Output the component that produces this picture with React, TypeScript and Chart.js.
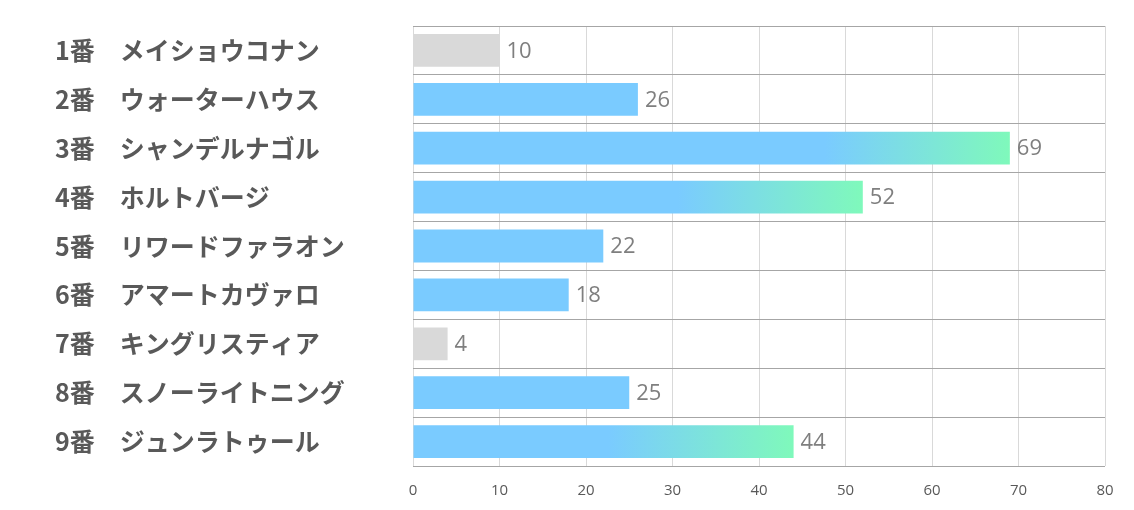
import React, { useEffect, useRef } from "react";
import { Chart, registerables } from "chart.js";

Chart.register(...registerables);

const categories: string[] = [
  "1番　メイショウコナン",
  "2番　ウォーターハウス",
  "3番　シャンデルナゴル",
  "4番　ホルトバージ",
  "5番　リワードファラオン",
  "6番　アマートカヴァロ",
  "7番　キングリスティア",
  "8番　スノーライトニング",
  "9番　ジュンラトゥール",
];
const values: number[] = [10, 26, 69, 52, 22, 18, 4, 25, 44];
// 0 = gray, 1 = blue, 2 = blue→green gradient
const barKinds: number[] = [0, 1, 2, 2, 1, 1, 0, 1, 2];
const xTicks: number[] = [0, 10, 20, 30, 40, 50, 60, 70, 80];

const GRAY = "#D9D9D9";
const BLUE = "#7ACBFF";
const GREEN = "#7FF9BB";

const valueLabels = {
  id: "valueLabels",
  afterDatasetsDraw(chart: any) {
    const ctx = chart.ctx;
    const meta = chart.getDatasetMeta(0);
    ctx.save();
    ctx.font = '22px "Open Sans", "Noto Sans", sans-serif';
    ctx.fillStyle = "#7F7F7F";
    ctx.textAlign = "left";
    ctx.textBaseline = "middle";
    meta.data.forEach((el: any, i: number) => {
      ctx.fillText(String(values[i]), el.x + 7, el.y + 1);
    });
    ctx.restore();
  },
};

export default function App() {
  const ref = useRef<HTMLCanvasElement | null>(null);
  useEffect(() => {
    if (!ref.current) return;
    const chart = new Chart(ref.current, {
      type: "bar",
      data: {
        labels: categories,
        datasets: [
          {
            data: values,
            backgroundColor: (c: any) => {
              const i = c.dataIndex;
              const kind = barKinds[i];
              if (kind === 0) return GRAY;
              if (kind === 1) return BLUE;
              const xs = c.chart.scales?.x;
              if (!xs) return BLUE;
              const end = xs.getPixelForValue(values[i]);
              const g = c.chart.ctx.createLinearGradient(end - 185, 0, end, 0);
              g.addColorStop(0, BLUE);
              g.addColorStop(1, GREEN);
              return g;
            },
            borderWidth: 0,
            barPercentage: 0.67,
            categoryPercentage: 1,
          },
        ],
      },
      options: {
        indexAxis: "y",
        animation: false,
        responsive: true,
        maintainAspectRatio: false,
        layout: { padding: { left: 47, top: 18, right: 21, bottom: 0 } },
        plugins: { legend: { display: false }, tooltip: { enabled: false } },
        scales: {
          x: {
            type: "linear",
            min: 0,
            max: 80,
            afterBuildTicks: (s: any) => {
              s.ticks = xTicks.map((v) => ({ value: v }));
            },
            afterFit: (s: any) => {
              s.height = 36;
              s.paddingLeft = 0;
              s.paddingRight = 0;
            },
            grid: { color: "#D9D9D9", drawTicks: false },
            border: { display: false },
            ticks: {
              color: "#595959",
              font: { family: '"Open Sans", "Noto Sans", sans-serif', size: 15 },
              padding: 16,
            },
          },
          y: {
            type: "category",
            afterFit: (s: any) => {
              s.width = 358;
            },
            grid: { color: "#A6A6A6", drawTicks: false, offset: true },
            border: { display: false },
            ticks: {
              crossAlign: "far",
              color: "#595959",
              padding: 0,
              font: { family: '"Noto Sans CJK JP", sans-serif', size: 25, weight: "bold" },
            },
          },
        },
      },
      plugins: [valueLabels],
    });
    return () => chart.destroy();
  }, []);
  return (
    <div style={{ width: "100%", height: 494, position: "relative" }}>
      <canvas ref={ref} />
    </div>
  );
}
